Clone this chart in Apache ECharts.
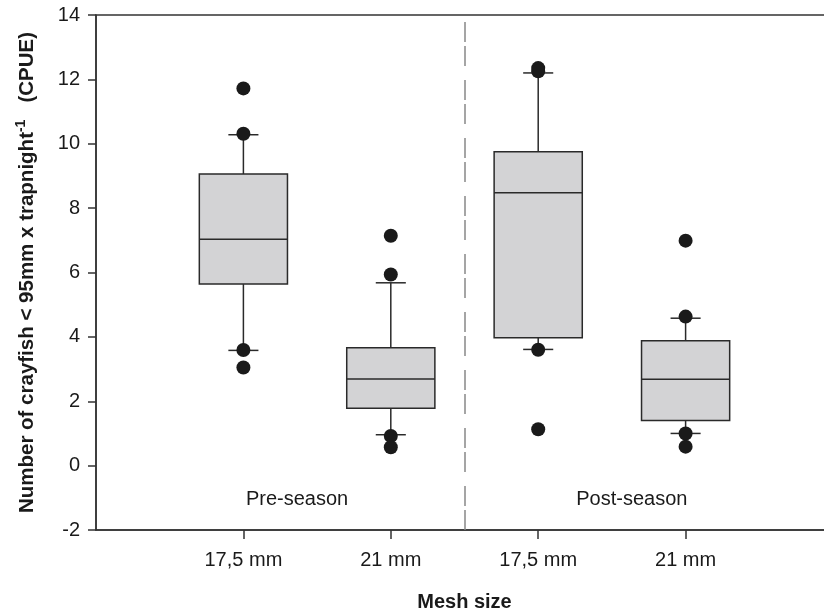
<!DOCTYPE html>
<html>
<head>
<meta charset="utf-8">
<script src="https://cdn.jsdelivr.net/npm/echarts@6/dist/echarts.min.js"></script>
<style>html,body{margin:0;padding:0;background:#fff;}#c{width:824px;height:615px;}</style>
</head>
<body>
<div id="c"></div>
<script>
// Category labels (positions 1..4 on the x axis)
const categories = ['', '17,5 mm', '21 mm', '17,5 mm', '21 mm', ''];
const positions = [1, 2, 3, 4];
// Box statistics: lower whisker, Q1, median, Q3, upper whisker
const whiskerLow = [3.58, 0.96, 3.61, 1.00];
const q1 = [5.64, 1.78, 3.97, 1.40];
const median = [7.03, 2.69, 8.48, 2.68];
const q3 = [9.06, 3.66, 9.75, 3.88];
const whiskerHigh = [10.28, 5.68, 12.20, 4.58];
// Outlier / extreme points per group
const points = [
  [11.72, 10.31, 3.59, 3.05],
  [7.14, 5.94, 0.92, 0.57],
  [12.35, 12.25, 3.60, 1.13],
  [6.99, 4.63, 1.00, 0.59]
];
const seasonNames = ['Pre-season', 'Post-season'];
const yTicks = [-2, 0, 2, 4, 6, 8, 10, 12, 14];

const boxData = positions.map((p, i) => [p, whiskerLow[i], q1[i], median[i], q3[i], whiskerHigh[i]]);
const pointData = [];
points.forEach((arr, i) => arr.forEach(v => pointData.push([positions[i], v])));

const FONT = 'Liberation Sans, Arial, sans-serif';
const AX = '#333';
const TXT = '#1a1a1a';
const chart = echarts.init(document.getElementById('c'), null, {renderer: 'canvas'});
chart.setOption({
  animation: false,
  backgroundColor: '#fff',
  grid: {left: 96, top: 15, width: 737, height: 515, show: true, borderColor: AX, borderWidth: 1.5, backgroundColor: 'transparent', containLabel: false, outerBoundsMode: 'none'},
  xAxis: [{
    type: 'category', data: categories, boundaryGap: false,
    axisLine: {onZero: false, lineStyle: {color: AX, width: 1.5}},
    axisTick: {length: 9, lineStyle: {color: AX, width: 1.5}, interval: (i) => i >= 1 && i <= 4},
    axisLabel: {interval: (i) => i >= 1 && i <= 4, fontSize: 20, color: TXT, fontFamily: FONT, margin: 20},
    splitLine: {show: false},
    name: 'Mesh size', nameLocation: 'middle', nameGap: 62,
    nameTextStyle: {fontSize: 20, fontWeight: 'bold', color: TXT, fontFamily: FONT}
  }, {
    type: 'value', min: 0, max: 5, show: false
  }],
  yAxis: {
    type: 'value', min: yTicks[0], max: yTicks[yTicks.length - 1], interval: 2,
    axisLine: {show: true, onZero: false, lineStyle: {color: AX, width: 1.5}},
    axisTick: {show: true, length: 8, lineStyle: {color: AX, width: 1.5}},
    axisLabel: {fontSize: 20, color: TXT, fontFamily: FONT, margin: 16},
    splitLine: {show: false},
    name: '{a|Number of crayfish < 95mm x trapnight}{s|-1}{a|   (CPUE)}',
    nameLocation: 'middle', nameGap: 58,
    nameTextStyle: {
      fontFamily: FONT, color: TXT,
      rich: {
        a: {fontSize: 20.5, fontWeight: 'bold', fontFamily: FONT, color: TXT, verticalAlign: 'bottom', lineHeight: 24},
        s: {fontSize: 14, fontWeight: 'bold', fontFamily: FONT, color: TXT, verticalAlign: 'top', lineHeight: 24, padding: [0, 0, 18, 0]}
      }
    }
  },
  series: [{
    type: 'custom', xAxisIndex: 1, yAxisIndex: 0,
    data: boxData,
    encode: {x: 0, y: [1, 2, 3, 4, 5]},
    renderItem: function (params, api) {
      const x = api.value(0);
      const pLo = api.coord([x, api.value(1)]);
      const pQ1 = api.coord([x, api.value(2)]);
      const pMed = api.coord([x, api.value(3)]);
      const pQ3 = api.coord([x, api.value(4)]);
      const pHi = api.coord([x, api.value(5)]);
      const bw = api.size([0.598, 0])[0];
      const cw = api.size([0.204, 0])[0];
      const cx = pMed[0];
      const ls = {stroke: '#2a2a2a', lineWidth: 1.5, fill: null};
      return {
        type: 'group',
        children: [
          {type: 'line', shape: {x1: cx, y1: pQ3[1], x2: cx, y2: pHi[1]}, style: ls},
          {type: 'line', shape: {x1: cx - cw / 2, y1: pHi[1], x2: cx + cw / 2, y2: pHi[1]}, style: ls},
          {type: 'line', shape: {x1: cx, y1: pQ1[1], x2: cx, y2: pLo[1]}, style: ls},
          {type: 'line', shape: {x1: cx - cw / 2, y1: pLo[1], x2: cx + cw / 2, y2: pLo[1]}, style: ls},
          {type: 'rect', shape: {x: cx - bw / 2, y: pQ3[1], width: bw, height: pQ1[1] - pQ3[1]}, style: {fill: '#d3d3d5', stroke: '#2a2a2a', lineWidth: 1.5}},
          {type: 'line', shape: {x1: cx - bw / 2, y1: pMed[1], x2: cx + bw / 2, y2: pMed[1]}, style: ls}
        ]
      };
    },
    markLine: {
      silent: true, symbol: 'none', label: {show: false},
      lineStyle: {color: '#888', width: 1.5, type: [20, 4, 20, 14]},
      data: [{xAxis: 2.5}]
    },
    z: 2
  }, {
    type: 'scatter', xAxisIndex: 1, yAxisIndex: 0,
    data: pointData, symbol: 'circle', symbolSize: 14,
    itemStyle: {color: '#1a1a1a', opacity: 1},
    z: 3
  }, {
    type: 'scatter', xAxisIndex: 1, yAxisIndex: 0,
    symbolSize: 0, silent: true,
    itemStyle: {opacity: 1},
    data: [
      {name: seasonNames[0], value: [1.364, -1.04]},
      {name: seasonNames[1], value: [3.635, -1.04]}
    ],
    label: {show: true, position: 'inside', formatter: '{b}', fontSize: 20, color: TXT, fontFamily: FONT},
    z: 4
  }]
});
</script>
</body>
</html>
